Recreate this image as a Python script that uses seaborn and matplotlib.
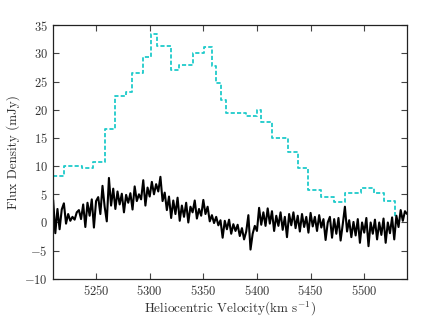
import numpy as np
import pandas as pd
import seaborn as sns
import matplotlib.pyplot as plt

# single-dish profile (step edges, mJy)
sd_vel = [5210, 5220.5, 5236.8, 5247, 5258.7, 5268, 5278.3, 5283.6, 5293.9, 5301,
          5306.9, 5319.8, 5327, 5340.3, 5350.2, 5358, 5361.5, 5366.6, 5371, 5389.5,
          5400.5, 5404, 5414, 5428.8, 5438.4, 5447.4, 5459.8, 5471.5, 5482.4, 5497.3,
          5508.9, 5518.1, 5529, 5531]
sd_flux = [8.25, 10.0, 9.6, 10.8, 16.6, 22.4, 23.1, 26.5, 29.3, 33.5,
           31.3, 27.0, 28.0, 30.0, 31.1, 27.8, 24.7, 21.7, 19.5, 18.9,
           19.9, 17.9, 15.0, 12.55, 9.6, 5.8, 4.6, 3.6, 5.2, 6.2,
           5.2, 3.8, 1.0, 1.0]

# interferometer spectrum, 2 km/s channels from 5210
v_start = 5210
dv = 2
spec_flux = [4.0, -1.9, 2.4, -1.2, 2.3, 3.4,
             -0.2, 1.5, 0.3, 1.0, 0.5,
             1.8, 2.2, 0.6, 3.2, -0.8,
             3.5, 1.2, 4.1, -0.9, 3.8,
             4.5, 1.5, 6.5, 2.8, 0.2,
             7.9, 3.0, 6.0, 2.4, 5.5,
             3.2, 5.1, 1.8, 4.9, 3.5,
             5.2, 2.3, 6.4, 3.8, 5.0,
             4.1, 7.5, 3.0, 6.2, 4.6,
             7.2, 5.0, 6.8, 5.5, 8.1,
             3.8, 5.3, 2.2, 4.6, 0.8,
             3.9, 1.5, 4.4, 0.3, 3.0,
             1.0, 3.5, 0.0, 2.8, 1.8,
             3.9, 0.7, 2.4, 1.2, 4.0,
             1.5, 2.8, 0.2, 1.3, -0.1,
             1.0, -0.5, 0.4, -2.7, 0.3,
             -1.2, 0.5, -2.0, -0.3, -1.5,
             -0.4, -2.4, -1.0, -3.0, -1.6,
             1.3, -4.8, -2.0, -0.6, -1.5,
             2.6, -0.4, 1.8, -0.6, 2.5,
             -0.2, 2.0, -1.5, 1.2, -0.6,
             1.8, -1.3, 1.0, -2.6, 1.5,
             -0.5, 1.8, -1.0, 1.2, -1.6,
             1.5, -0.8, 1.0, -1.8, 1.7,
             -0.7, 1.0, -1.5, 1.3, -0.9,
             0.6, -3.1, 0.0, 1.0, -2.7,
             0.6, -2.0, 0.8, -3.2, -0.3,
             2.8, -1.6, 0.4, -2.6, 0.1,
             -2.3, 0.6, -3.6, 0.0, -1.8,
             0.8, -4.2, 0.0, -2.0, 0.5,
             -3.0, 0.0, -2.2, 0.7, -3.6,
             0.0, -1.9, 0.9, -3.0, 1.2,
             -0.8, 2.2, 0.3, 2.0, 1.5]

spec_vel = v_start + dv * np.arange(len(spec_flux))

sns.set_style("ticks", {"xtick.direction": "in", "ytick.direction": "in"})
plt.rcParams["font.family"] = "serif"
plt.rcParams["font.serif"] = ["cmr10", "DejaVu Serif"]
plt.rcParams["mathtext.fontset"] = "cm"
plt.rcParams["axes.formatter.use_mathtext"] = True
plt.rcParams["axes.unicode_minus"] = True

fig = plt.figure(figsize=(4.43, 3.18), dpi=100)
ax = fig.add_axes([0.12, 0.123, 0.799, 0.798])

sd = pd.DataFrame({"vel": sd_vel, "flux": sd_flux})
sp = pd.DataFrame({"vel": spec_vel, "flux": spec_flux})

sns.lineplot(data=sd, x="vel", y="flux", ax=ax, drawstyle="steps-post",
             color="#1fcaca", lw=1.3, dashes=False, errorbar=None)
ax.lines[-1].set_dashes([2.3, 1.2])
sns.lineplot(data=sp, x="vel", y="flux", ax=ax, color="black", lw=1.5,
             errorbar=None)

ax.set_xlim(5210, 5540)
ax.set_ylim(-10, 35)
ax.set_xticks([5250, 5300, 5350, 5400, 5450, 5500])
ax.set_yticks(range(-10, 36, 5))
ax.tick_params(direction="in", top=True, right=True, length=4, width=0.8,
               labelsize=9, colors="#444444", labelcolor="#333333", pad=4)
for s in ax.spines.values():
    s.set_color("#222222")
    s.set_linewidth(0.9)

ax.set_xlabel(r"Heliocentric Velocity(km s$^{-1}$)", fontsize=9.5, color="#333333", labelpad=1)
ax.set_ylabel("Flux Density (mJy)", fontsize=9.5, color="#333333", labelpad=3)

fig.savefig("out.png", dpi=100)
